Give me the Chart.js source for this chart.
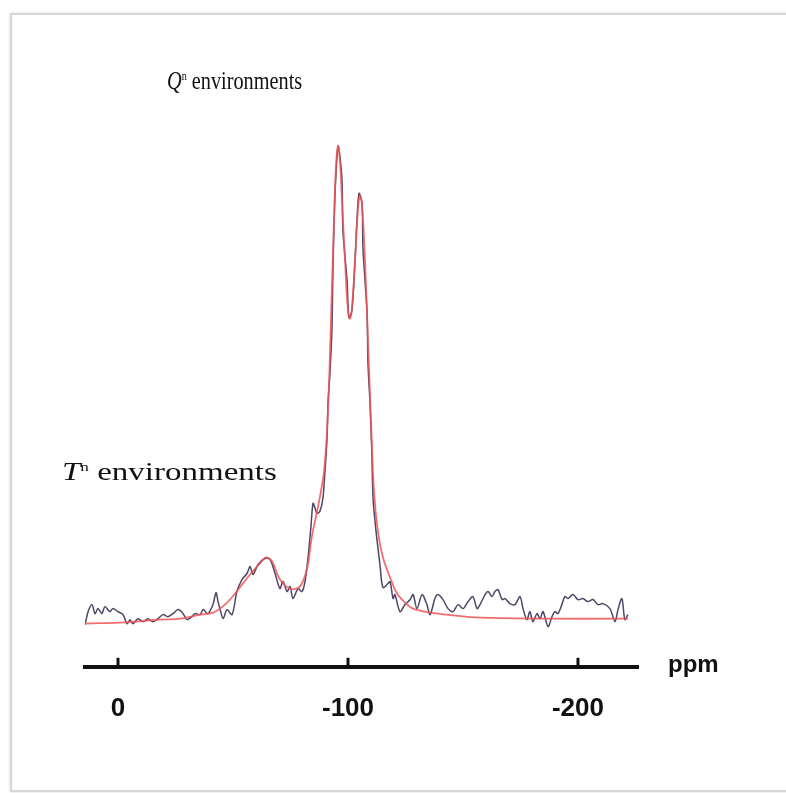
<!DOCTYPE html>
<html lang="en">
<head>
    <meta charset="UTF-8">
    <title>29Si NMR spectrum</title>
    <script src="https://cdn.jsdelivr.net/npm/chart.js"></script>
    <style>
        body {
            margin: 0;
            background: #fff;
            width: 786px;
            height: 793px;
            overflow: hidden;
            position: relative;
        }
        .frame {
            position: absolute;
            left: 10px;
            top: 13px;
            width: 800px;
            height: 775px;
            border: 2px solid #d6d6d6;
            box-shadow: 0 0 3px rgba(0, 0, 0, 0.15);
            background: #fff;
        }
        .chart-box {
            position: absolute;
            left: 0;
            top: 0;
            width: 786px;
            height: 793px;
        }
        .note {
            position: absolute;
            font-family: 'Liberation Serif', 'Times New Roman', serif;
            font-size: 24px;
            color: #111;
            white-space: nowrap;
            transform-origin: left top;
        }
        .note i { font-style: italic; }
        .note sup { font-size: 13px; vertical-align: 9px; }
        .ppm {
            position: absolute;
            left: 668px;
            top: 650px;
            font-family: 'Liberation Sans', Arial, sans-serif;
            font-weight: bold;
            font-size: 24px;
            color: #111;
        }
    </style>
</head>
<body>
    <div class="frame"></div>
    <div class="chart-box"><canvas id="nmrChart"></canvas></div>
    <div class="note" id="qNote" style="left:167px; top:66px; font-size:26px; transform:scaleX(0.78);"><i>Q</i><sup>n</sup> environments</div>
    <div class="note" id="tNote" style="left:62px; top:458px; font-size:25px; transform:scaleX(1.32);"><i>T</i><sup>n</sup> environments</div>
    <div class="ppm">ppm</div>

    <script>
        // chemical shift axis (ppm)
        const tickValues = [0, -100, -200];
        const tickLabels = ['0', '-100', '-200'];

        // measured spectrum
        const specPpm = [15.2, 14.3, 13.0, 11.3, 10.0, 8.7, 7.0, 5.7, 3.5, 2.2, 0, -2.2, -3.9, -5.2, -6.5, -8.7, -10.9, -13.0, -15.2, -17.4,
            -19.6, -21.7, -23.9, -26.1, -28.3, -30.0, -32.2, -33.5, -35.7, -37.0, -39.1, -41.3, -42.6, -43.5, -44.3, -45.7, -47.4, -49.6, -51.7, -53.9,
            -56.1, -57.4, -58.7, -60.9, -63.9, -66.1, -68.3, -70.4, -71.7, -73.5, -74.8, -76.1, -78.3, -80.0, -81.3, -82.6, -83.9, -84.8, -85.7, -86.5,
            -87.8, -89.1, -90.0, -90.9, -91.3, -92.2, -93.0, -93.5, -94.3, -95.2, -95.7, -96.5, -97.4, -97.8, -99.6, -100.4, -101.7, -103.0, -103.9, -104.8,
            -106.1, -106.5, -107.4, -108.3, -108.7, -109.6, -110.4, -110.9, -112.2, -113.9, -115.2, -117.4, -118.3, -119.6, -120.4, -122.6, -124.8, -127.0, -128.3, -130.0,
            -132.2, -134.3, -135.7, -137.8, -139.1, -141.3, -143.5, -145.7, -147.8, -150.0, -152.2, -154.3, -156.1, -157.4, -159.6, -160.9, -162.6, -163.9, -165.2, -167.0,
            -168.3, -170.4, -172.6, -174.8, -176.1, -177.8, -179.1, -180.4, -182.2, -183.5, -184.8, -187.0, -188.7, -190.0, -191.3, -193.0, -194.3, -195.7, -197.8, -200.0,
            -202.2, -204.3, -206.5, -208.7, -210.9, -213.9, -216.1, -217.4, -219.1, -220.4, -221.7];
        const specInt = [8, 8.6, 11, 12.4, 10.6, 11.6, 10.6, 12, 11, 11.6, 11, 10.4, 8.6, 9.4, 8.6, 9.6, 9, 9.6, 9, 9.6,
            10.4, 10, 10.6, 11.4, 10.6, 9.4, 10, 10.6, 10.4, 11.4, 10.6, 12.4, 14.8, 13, 11.6, 9.6, 11.4, 10.4, 15, 17.4,
            18.6, 20, 18.4, 20.4, 21.6, 21.4, 18.6, 15.6, 17, 15, 16, 13.6, 15.6, 15, 17, 21.6, 28, 32.6, 31.6, 30.6,
            31, 33.6, 39, 45.6, 52.4, 59, 67, 80.4, 93.6, 101.6, 104, 101.6, 97, 87, 77, 69.6, 71, 80.4, 89, 94.4,
            92.4, 83.6, 77, 70.4, 60.4, 52.4, 42.4, 33.6, 27, 20.4, 15.8, 16.6, 17, 13.6, 14.4, 11, 12.4, 13.4, 14.4, 11.6,
            14.4, 12.4, 10.4, 13.6, 14.4, 13.4, 11.6, 11, 12.4, 11.6, 13, 14, 11.6, 12.4, 14.4, 15, 14, 15, 15.4, 13.4,
            13.6, 12.6, 12.4, 14, 11.6, 9.4, 11, 9, 10.6, 9.6, 11, 8, 10, 11, 10.6, 12.4, 14, 13.6, 14.4, 13.4,
            13.6, 13, 13.4, 12.4, 12.6, 11.6, 9, 11.4, 13.6, 9.4, 10.4];

        // fitted envelope
        const fitPpm = [15.2, 7.8, -0.9, -18.3, -27.0, -35.7, -41.3, -46.5, -50.9, -57.4, -61.7, -64.3, -67.0, -70.4, -74.8, -79.1, -82.2, -84.3, -87.0, -89.6,
            -91.3, -92.6, -93.9, -94.8, -95.7, -96.5, -97.4, -98.7, -100.0, -100.9, -101.7, -103.0, -104.3, -105.2, -106.1, -107.4, -108.7, -110.0, -111.3, -113.0,
            -115.2, -118.3, -121.3, -124.8, -128.3, -135.7, -143.0, -157.4, -183.5, -221.7];
        const fitInt = [8.6, 8.7, 8.8, 9.4, 9.6, 10.4, 10.8, 12.4, 14.6, 18.4, 20.6, 21.8, 21, 17.4, 15.6, 16, 19.6, 26, 32, 39,
            51, 69, 89, 100, 103.8, 101, 93, 81, 71, 69.4, 71.4, 80.6, 91, 94, 92, 81, 65, 49, 35, 27,
            21.8, 17.8, 14.6, 12.8, 11.6, 10.8, 10.4, 9.8, 9.6, 9.6];

        const toPoints = (xs, ys) => xs.map((x, i) => ({ x: x, y: ys[i] }));

        // small tick marks standing up from the axis line
        const upTicks = {
            id: 'upTicks',
            afterDraw(chart) {
                const sx = chart.scales.x;
                const ctx = chart.ctx;
                const base = chart.chartArea.bottom;
                ctx.save();
                ctx.strokeStyle = '#111';
                ctx.lineWidth = 3;
                tickValues.forEach(v => {
                    const px = sx.getPixelForValue(v);
                    ctx.beginPath();
                    ctx.moveTo(px, base);
                    ctx.lineTo(px, base - 9);
                    ctx.stroke();
                });
                ctx.restore();
            }
        };

        new Chart(document.getElementById('nmrChart'), {
            type: 'scatter',
            data: {
                datasets: [
                    {
                        label: 'Fit',
                        data: toPoints(fitPpm, fitInt),
                        showLine: true,
                        borderColor: 'rgba(240, 85, 85, 0.85)',
                        borderWidth: 1.8,
                        pointRadius: 0,
                        tension: 0.35,
                        order: 1
                    },
                    {
                        label: 'Spectrum',
                        data: toPoints(specPpm, specInt),
                        showLine: true,
                        borderColor: '#514566',
                        borderWidth: 1.5,
                        pointRadius: 0,
                        tension: 0.3,
                        order: 2
                    }
                ]
            },
            options: {
                responsive: true,
                maintainAspectRatio: false,
                animation: false,
                layout: { padding: { left: 85, right: 148, top: 100, bottom: 43 } },
                plugins: {
                    legend: { display: false },
                    tooltip: { enabled: false }
                },
                scales: {
                    x: {
                        type: 'linear',
                        reverse: true,
                        min: -226.1,
                        max: 14.35,
                        afterBuildTicks: scale => {
                            scale.ticks = tickValues.map(v => ({ value: v }));
                        },
                        grid: { display: true, drawOnChartArea: false, drawTicks: false },
                        border: { display: true, color: '#111', width: 4 },
                        ticks: {
                            padding: 26,
                            color: '#111',
                            font: { family: "'Liberation Sans', Arial, sans-serif", weight: 'bold', size: 26 },
                            callback: (v) => tickLabels[tickValues.indexOf(v)] ?? ''
                        }
                    },
                    y: {
                        display: false,
                        min: 0,
                        max: 113
                    }
                }
            },
            plugins: [upTicks]
        });
    </script>
</body>
</html>
